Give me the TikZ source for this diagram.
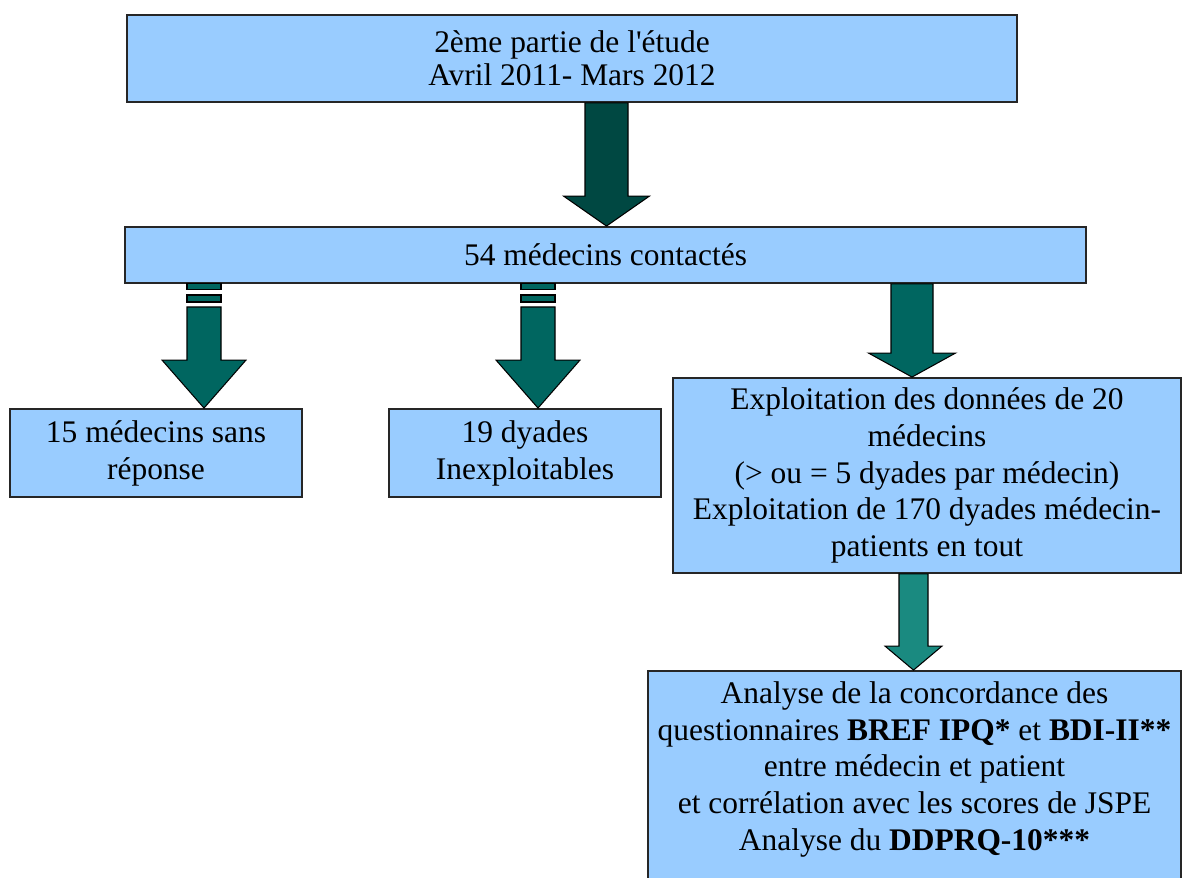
\documentclass[tikz,border=0pt]{standalone}
\usepackage{fontspec}
\setmainfont{Liberation Serif}
\usetikzlibrary{calc}
\definecolor{boitebleue}{HTML}{99CCFF}
\definecolor{flechesombre}{HTML}{004842}
\definecolor{flechemoyenne}{HTML}{006660}
\definecolor{flecheclaire}{HTML}{1A8A80}
\newcommand{\flechebloc}[7]{%
  \path #1 coordinate (fdep) (#2.north -| #3,0) coordinate (fpte);
  \draw[#7] ($(fdep)+(-#4,0)$) -- ($(fpte)+(-#4,-#6)$) -- ($(fpte)+(-#5,-#6)$)
    -- (fpte) -- ($(fpte)+(#5,-#6)$) -- ($(fpte)+(#4,-#6)$) -- ($(fdep)+(#4,0)$) -- cycle;}
\begin{document}
\begin{tikzpicture}[x=0.02cm,y=-0.02cm]
  \tikzstyle{every node}+=[inner sep=0pt]
  \tikzstyle{etape}=[draw=black!85, line width=1.1pt, fill=boitebleue, align=center,
                     font=\fontsize{17.9}{21}\selectfont]
  \tikzstyle{fleche}=[draw=black, line width=0.6pt]
  \useasboundingbox (0,0) rectangle (1182,877);
  \clip (0,0) rectangle (1182,877);
  \node[etape, minimum width=17.8cm, minimum height=1.74cm, font=\fontsize{17.9}{18.8}\selectfont]
    (etude) at (572,58.5) {2ème partie de l\textquotesingle étude\\Avril 2011- Mars 2012};
  \node[etape, minimum width=19.22cm, minimum height=1.12cm] (contact) at (605.5,255) {54 médecins contactés};
  \node[etape, minimum width=5.84cm, minimum height=1.76cm] (sans) at (156,453) {15 médecins sans\\réponse};
  \node[etape, minimum width=5.44cm, minimum height=1.76cm] (inex) at (525,453) {19 dyades\\Inexploitables};
  \node[etape, minimum width=10.16cm, minimum height=3.9cm] (exploit) at (927,475.5)
    {Exploitation des données de 20\\médecins\\(> ou = 5 dyades par médecin)\\Exploitation de 170 dyades médecin-\\patients en tout};
  \node[etape, minimum width=10.66cm, minimum height=4.54cm] (analyse) at (914.5,784.5)
    {Analyse de la concordance des\\questionnaires \textbf{BREF IPQ*} et \textbf{BDI-II**}\\entre médecin et patient\\et corrélation avec les scores de JSPE\\Analyse du \textbf{DDPRQ-10***}\\\mbox{}};
  \flechebloc{(etude.south -| 606.5,0)}{contact}{606.5}{21.5}{43}{30}{fleche, fill=flechesombre}
  \foreach \fx/\cible in {204/sans, 538/inex} {
    \draw[fleche, fill=flechemoyenne] ($(contact.south -| \fx,0)+(-17,0)$) rectangle ++(34,6);
    \draw[fleche, fill=flechemoyenne] ($(contact.south -| \fx,0)+(-17,11)$) rectangle ++(34,7);
    \flechebloc{($(contact.south -| \fx,0)+(0,23)$)}{\cible}{\fx}{17}{42}{48}{fleche, fill=flechemoyenne}
  }
  \flechebloc{(contact.south -| 912,0)}{exploit}{912}{21}{43.5}{24}{fleche, fill=flechemoyenne}
  \flechebloc{(exploit.south -| 913.5,0)}{analyse}{913.5}{14.5}{28.5}{24}{fleche, fill=flecheclaire}
\end{tikzpicture}
\end{document}
